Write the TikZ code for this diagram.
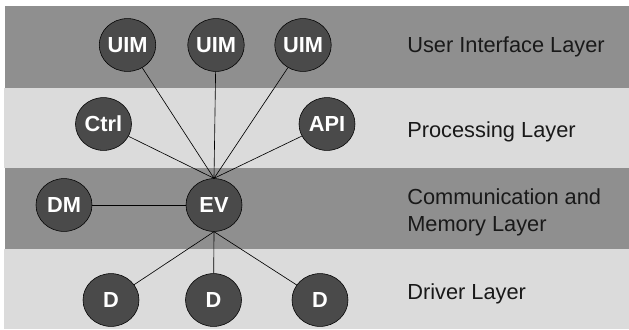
\documentclass[tikz,border=0pt]{standalone}
\usepackage{fontspec}
\setmainfont{Liberation Sans}
\usetikzlibrary{shapes.geometric}

\definecolor{layerdark}{gray}{0.56}
\definecolor{layerlight}{gray}{0.86}
\definecolor{modfill}{gray}{0.29}
\definecolor{labeltext}{gray}{0.1}

\begin{document}
\begin{tikzpicture}[x=0.025cm,y=-0.025cm,
  module/.style={ellipse,draw=black,line width=.4pt,fill=modfill,text=white,
    minimum width=1.4cm,minimum height=1.32cm,inner sep=0pt,
    font=\fontsize{15.5}{18}\selectfont\bfseries},
  layer/.style={anchor=base west,text=labeltext,inner sep=0pt,align=left,
    font=\fontsize{15.5}{19.2}\selectfont},
  link/.style={draw=black,line width=.45pt}]
\useasboundingbox (0,0) rectangle (629,329);
% layer bands
\fill[layerdark] (5,6) rectangle (629,88);
\fill[layerlight] (4,88) rectangle (629,168);
\fill[layerdark] (5,168) rectangle (629,249);
\fill[layerlight] (4,249) rectangle (629,329);
% layer names
\node[layer] (lui) at (407,52.7) {User Interface Layer};
\node[layer] (lproc) at (407,137) {Processing Layer};
\node[layer,anchor=west] (lcomm) at (407,212) {Communication and\\Memory Layer};
\node[layer] (ldrv) at (407,299) {Driver Layer};
% modules
\node[module] (uim1) at (127.5,45) {UIM};
\node[module] (uim2) at (216,45) {UIM};
\node[module] (uim3) at (303,45) {UIM};
\node[module] (ctrl) at (103.5,124) {Ctrl};
\node[module] (api) at (327,124) {API};
\node[module] (dm) at (64,205) {DM};
\node[module] (ev) at (214,205) {EV};
\node[module] (d1) at (111,300) {D};
\node[module] (d2) at (213.5,300) {D};
\node[module] (d3) at (320,300) {D};
% links to the event node
\draw[link] (ev.north) -- (uim1);
\draw[link] (ev.north) -- (uim2);
\draw[link] (ev.north) -- (uim3);
\draw[link] (ev.north) -- (ctrl);
\draw[link] (ev.north) -- (api);
\draw[link] (dm) -- (ev);
\draw[link] (ev.south) -- (d1);
\draw[link] (ev.south) -- (d2);
\draw[link] (ev.south) -- (d3);
\end{tikzpicture}
\end{document}
